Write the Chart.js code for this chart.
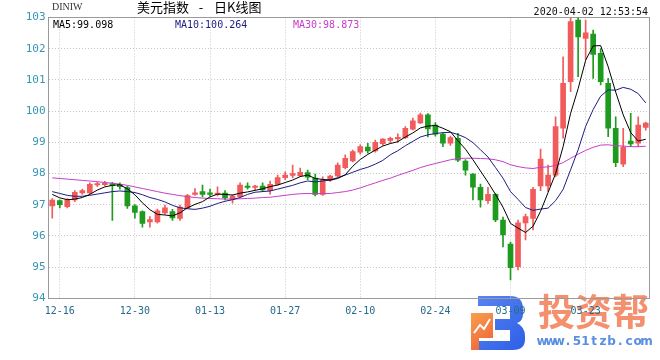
<!DOCTYPE html>
<html><head><meta charset="utf-8">
<script src="https://cdn.jsdelivr.net/npm/chart.js@4.4.1/dist/chart.umd.min.js"></script>
<style>html,body{margin:0;padding:0;background:#fff;}#wrap{width:660px;height:360px;}</style>
</head><body><div id="wrap"><canvas id="c" width="660" height="360"></canvas></div>
<script>
// ---- data ----
const dates = ['12-13','12-16','12-17','12-18','12-19','12-20','12-23','12-24','12-25','12-26','12-27',
 '12-30','12-31','01-01','01-02','01-03','01-06','01-07','01-08','01-09','01-10',
 '01-13','01-14','01-15','01-16','01-17','01-20','01-21','01-22','01-23','01-24',
 '01-27','01-28','01-29','01-30','01-31','02-03','02-04','02-05','02-06','02-07',
 '02-10','02-11','02-12','02-13','02-14','02-17','02-18','02-19','02-20','02-21',
 '02-24','02-25','02-26','02-27','02-28','03-02','03-03','03-04','03-05','03-06',
 '03-09','03-10','03-11','03-12','03-13','03-16','03-17','03-18','03-19','03-20',
 '03-23','03-24','03-25','03-26','03-27','03-30','03-31','04-01','04-02'];
const tickDates = ['12-16','12-30','01-13','01-27','02-10','02-24','03-09','03-23'];
const open = [96.96,97.13,96.94,97.15,97.38,97.38,97.63,97.64,97.68,97.65,97.55,
 96.96,96.78,96.45,96.45,96.74,96.78,96.56,96.90,97.33,97.42,
 97.35,97.32,97.37,97.17,97.26,97.60,97.55,97.60,97.45,97.65,
 97.87,97.94,97.93,98.03,97.85,97.33,97.79,97.92,98.19,98.40,
 98.68,98.85,98.72,98.96,99.06,99.11,99.15,99.42,99.62,99.88,
 99.55,99.26,98.97,99.13,98.40,97.98,97.56,97.13,97.33,96.51,
 95.74,95.01,96.42,96.56,97.60,97.60,97.95,99.45,100.94,102.92,
 102.33,102.47,101.85,100.89,99.45,98.30,99.04,98.97,99.48];
const high = [97.20,97.16,97.20,97.45,97.50,97.70,97.72,97.75,97.72,97.70,97.60,
 97.00,96.80,96.62,96.86,96.99,96.85,96.99,97.33,97.52,97.63,
 97.50,97.57,97.45,97.32,97.70,97.70,97.62,97.70,97.76,97.95,
 98.05,98.27,98.17,98.11,97.98,97.89,97.95,98.34,98.60,98.75,
 98.92,98.97,99.07,99.12,99.17,99.27,99.50,99.78,99.94,99.92,
 99.63,99.30,99.20,99.29,98.45,98.00,97.66,97.56,97.36,96.60,
 95.80,96.51,96.70,97.56,98.78,98.27,99.82,101.74,102.97,103.00,
 102.92,102.60,102.00,101.05,99.82,99.45,99.93,99.82,99.65];
const low = [96.57,96.90,96.90,97.10,97.33,97.35,97.58,97.60,96.50,97.50,96.88,
 96.57,96.28,96.28,96.41,96.70,96.50,96.50,96.88,97.30,97.25,
 97.27,97.28,97.15,97.05,97.24,97.50,97.47,97.42,97.34,97.62,
 97.80,97.86,97.90,97.80,97.28,97.30,97.75,97.90,98.15,98.37,
 98.62,98.65,98.68,98.90,98.98,99.00,99.12,99.40,99.60,99.17,
 99.20,98.86,98.90,98.38,97.95,97.15,96.92,97.04,96.46,95.65,
 94.59,94.91,95.87,96.19,97.45,97.42,97.90,99.13,100.62,101.10,
 101.66,101.05,100.84,99.18,98.22,98.22,98.86,98.86,99.39];
const close = [97.15,97.00,97.15,97.40,97.45,97.65,97.68,97.69,97.62,97.58,96.96,
 96.75,96.40,96.52,96.80,96.90,96.58,96.92,97.29,97.38,97.33,
 97.33,97.37,97.22,97.28,97.63,97.55,97.60,97.47,97.65,97.87,
 97.95,98.00,98.04,97.88,97.33,97.79,97.92,98.27,98.49,98.70,
 98.86,98.72,99.00,99.10,99.13,99.15,99.45,99.69,99.88,99.43,
 99.26,98.97,99.15,98.43,98.11,97.56,97.15,97.33,96.51,96.03,
 94.98,96.42,96.62,97.49,98.46,97.95,99.50,100.89,102.87,102.38,
 102.51,101.82,100.94,99.45,98.35,98.85,98.95,99.55,99.62];
const ma5 = [97.33,97.22,97.16,97.18,97.23,97.33,97.47,97.57,97.62,97.64,97.51,
 97.32,97.06,96.84,96.69,96.67,96.64,96.74,96.90,97.01,97.10,
 97.25,97.34,97.33,97.31,97.37,97.41,97.46,97.51,97.58,97.63,
 97.71,97.79,97.90,97.95,97.84,97.81,97.79,97.84,97.96,98.23,
 98.45,98.61,98.75,98.88,98.96,99.02,99.17,99.30,99.46,99.52,
 99.54,99.45,99.34,99.05,98.78,98.44,98.08,97.72,97.33,96.92,
 96.40,96.25,96.11,96.31,96.79,97.39,98.00,98.86,99.93,100.72,
 101.63,102.09,102.10,101.42,100.61,99.88,99.31,99.04,99.098];
const ma10 = [97.42,97.36,97.30,97.27,97.27,97.30,97.34,97.38,97.42,97.44,97.42,
 97.39,97.32,97.23,97.17,97.09,96.98,96.90,96.87,96.85,96.89,
 96.95,97.04,97.11,97.16,97.23,97.33,97.40,97.42,97.44,97.50,
 97.56,97.62,97.70,97.76,97.73,97.76,97.79,97.87,97.95,98.04,
 98.13,98.20,98.30,98.42,98.60,98.73,98.89,99.03,99.17,99.24,
 99.28,99.31,99.32,99.25,99.15,98.99,98.76,98.53,98.19,97.85,
 97.42,97.17,96.91,96.82,96.86,96.89,97.13,97.49,98.12,98.76,
 99.51,100.05,100.48,100.68,100.67,100.76,100.70,100.56,100.264];
const ma30 = [97.86,97.84,97.82,97.80,97.78,97.76,97.74,97.71,97.69,97.66,97.62,
 97.57,97.52,97.47,97.42,97.37,97.33,97.29,97.26,97.23,97.21,
 97.20,97.19,97.18,97.18,97.19,97.20,97.21,97.23,97.24,97.27,
 97.30,97.33,97.35,97.36,97.35,97.36,97.36,97.39,97.42,97.47,
 97.54,97.62,97.70,97.78,97.85,97.94,98.02,98.10,98.19,98.26,
 98.32,98.38,98.44,98.48,98.49,98.49,98.48,98.47,98.44,98.38,
 98.28,98.22,98.18,98.16,98.20,98.21,98.26,98.35,98.49,98.62,
 98.74,98.84,98.91,98.92,98.89,98.88,98.86,98.86,98.873];
const yMin = 94, yMax = 103;
const symbolText = 'DINIW';
const titleLeft = '美元指数', titleDash = '-', titleRight = '日K线图';
const stampText = '2020-04-02 12:53:54';
const legendItems = [['MA5:99.098','#000000',53],['MA10:100.264','#1c1c80',175],['MA30:98.873','#c83cc8',293]];

// ---- styles ----
const UP = '#f25b5b', DOWN = '#1e9b1e';
const colors = close.map((c,i) => c >= open[i] ? UP : DOWN);
const isTick = i => tickDates.includes(dates[i]);
const MONO = '"DejaVu Sans Mono", "Liberation Mono", monospace';
const CJK = '"Noto Sans CJK SC", "Noto Sans", sans-serif';

function drawWatermark(ctx){
  ctx.save();
  // logo
  const g = ctx.createLinearGradient(472,296,524,350);
  g.addColorStop(0,'#5b86f2'); g.addColorStop(1,'#2e5fe6');
  ctx.fillStyle = g;
  ctx.beginPath();
  ctx.moveTo(478,296); ctx.lineTo(510,296); ctx.quadraticCurveTo(523,296,523,309);
  ctx.lineTo(523,314); ctx.quadraticCurveTo(523,321,517,323); ctx.quadraticCurveTo(525,327,525,336);
  ctx.lineTo(525,339); ctx.quadraticCurveTo(525,350,513,350); ctx.lineTo(478,350); ctx.lineTo(478,341);
  ctx.lineTo(510,341); ctx.lineTo(510,330); ctx.lineTo(495,330); ctx.lineTo(495,319); ctx.lineTo(510,319);
  ctx.lineTo(510,306); ctx.lineTo(478,306); ctx.closePath(); ctx.fill();
  const o = ctx.createLinearGradient(471,312,493,340);
  o.addColorStop(0,'#f8a14c'); o.addColorStop(1,'#f06a3c');
  ctx.fillStyle = o; ctx.fillRect(471,313,22,25); ctx.fillRect(471,338,8,12);
  ctx.strokeStyle = '#fff'; ctx.lineWidth = 2;
  ctx.beginPath(); ctx.moveTo(474,333); ctx.lineTo(480,325); ctx.lineTo(484,329); ctx.lineTo(490,319); ctx.stroke();
  // text
  ctx.fillStyle = '#f4906e';
  ctx.font = 'bold 37px ' + CJK;
  ctx.textBaseline = 'middle'; ctx.textAlign = 'left';
  ctx.fillText('投资帮', 538, 312);
  ctx.fillStyle = '#5a8ede';
  ctx.font = 'bold 12px "DejaVu Sans", sans-serif';
  const url = 'www.51tzb.com';
  for (let i=0;i<url.length;i++){ ctx.textAlign='center'; ctx.fillText(url[i], 542 + i*8.7, 342); }
  ctx.restore();
}

const decor = {
  id: 'decor',
  beforeDraw(chart){ drawWatermark(chart.ctx); },
  beforeDatasetsDraw(chart){
    const {ctx, chartArea:a} = chart;
    ctx.save(); ctx.strokeStyle = '#9a9a9a'; ctx.lineWidth = 1;
    const l = Math.floor(a.left)+0.5, t = Math.floor(a.top)+0.5, r = Math.floor(a.right)+0.5, b = Math.floor(a.bottom)+0.5;
    ctx.strokeRect(l, t, r-l, b-t);
    ctx.restore();
  },
  afterDraw(chart){
    const ctx = chart.ctx;
    ctx.save();
    ctx.textBaseline = 'alphabetic'; ctx.textAlign = 'left';
    ctx.fillStyle = '#333'; ctx.font = '10px "Liberation Serif", serif';
    ctx.fillText(symbolText, 52, 10);
    ctx.fillStyle = '#000'; ctx.font = '13px ' + CJK;
    ctx.fillText(titleLeft, 137, 12);
    ctx.textAlign = 'center'; ctx.fillText(titleDash, 201, 12);
    ctx.textAlign = 'left'; ctx.fillText(titleRight, 214, 12);
    ctx.font = '10px ' + MONO; ctx.textAlign = 'right'; ctx.fillStyle = '#111';
    ctx.fillText(stampText, 648, 15);
    ctx.textAlign = 'left';
    for (const [txt, col, x] of legendItems){ ctx.fillStyle = col; ctx.fillText(txt, x, 28); }
    ctx.restore();
  }
};

new Chart(document.getElementById('c'), {
  type: 'bar',
  data: {
    labels: dates,
    datasets: [
      {type:'line', label:'MA5', data: ma5, borderColor:'#000000', borderWidth:1, pointRadius:0, tension:0, order:0},
      {type:'line', label:'MA10', data: ma10, borderColor:'#1c1c80', borderWidth:1, pointRadius:0, tension:0, order:0},
      {type:'line', label:'MA30', data: ma30, borderColor:'#c83cc8', borderWidth:1, pointRadius:0, tension:0, order:0},
      {type:'bar', label:'body', data: dates.map((d,i)=>[open[i], close[i]]), backgroundColor: colors, barThickness:5, minBarLength:1.5, grouped:false, order:1},
      {type:'bar', label:'wick', data: dates.map((d,i)=>[low[i], high[i]]), backgroundColor: colors, barThickness:1, grouped:false, order:2}
    ]
  },
  options: {
    responsive: false, devicePixelRatio: 1, animation: false,
    layout: {padding: {top: 17.5, right: 10.5, bottom: 0, left: 0}},
    plugins: {legend: {display:false}, tooltip: {enabled:false}},
    scales: {
      x: {
        type: 'category', offset: true,
        grid: {offset:false, drawTicks:false, lineWidth:1, color: c => isTick(c.index) ? '#c4c4c4' : 'rgba(0,0,0,0)'},
        border: {display:false, dash:[1,2]},
        ticks: {autoSkip:false, maxRotation:0, minRotation:0, padding:7, color:'#246b8c',
          font:{family: MONO, size:10}, callback: (v,i) => isTick(i) ? dates[i] : ''},
        afterFit: s => { s.height = 61.7; }
      },
      y: {
        min: yMin, max: yMax,
        grid: {drawTicks:false, lineWidth:1, color:'#c8c8c8'},
        border: {display:false, dash:[1,2]},
        ticks: {stepSize:1, padding:3, color:'#3596b5', font:{family: MONO, size:11}},
        afterFit: s => { s.width = 48.5; }
      }
    }
  },
  plugins: [decor]
});
</script>
</body></html>
